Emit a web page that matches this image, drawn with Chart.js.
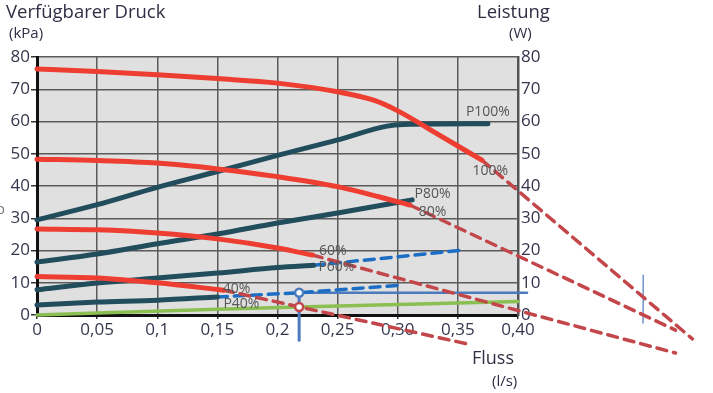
<!DOCTYPE html>
<html>
<head>
<meta charset="utf-8">
<script src="https://cdn.jsdelivr.net/npm/chart.js@4/dist/chart.umd.min.js"></script>
<style>
  html, body { margin: 0; padding: 0; background: #fff; }
</style>
</head>
<body>
<canvas id="pumpChart" width="713" height="393"></canvas>
<script>
// pressure curves (kPa, left axis) and power curves (W, right axis) over flow (l/s)
const flow100 = [0, 0.05, 0.1, 0.15, 0.2, 0.25, 0.28, 0.30, 0.33, 0.37];
const druck100 = [76.3, 75.5, 74.5, 73.3, 71.9, 69.2, 66.6, 63.3, 56.8, 48.0];
const flowP100 = [0, 0.05, 0.1, 0.15, 0.2, 0.25, 0.29, 0.305, 0.375];
const leistungP100 = [29.5, 34.2, 39.6, 44.5, 49.5, 54.3, 58.5, 59.1, 59.3];

const flow80 = [0, 0.05, 0.1, 0.15, 0.2, 0.25, 0.285, 0.31];
const druck80 = [48.3, 47.9, 47.1, 45.3, 42.9, 39.8, 36.6, 34.1];
const flowP80 = [0, 0.05, 0.1, 0.15, 0.2, 0.25, 0.312];
const leistungP80 = [16.4, 18.9, 22.1, 25.1, 28.5, 31.6, 35.7];

const flow60 = [0, 0.05, 0.1, 0.15, 0.2, 0.229];
const druck60 = [26.7, 26.4, 25.4, 23.6, 20.8, 18.6];
const flowP60 = [0, 0.05, 0.1, 0.15, 0.2, 0.23];
const leistungP60 = [7.8, 9.9, 11.5, 13.0, 14.7, 15.4];

const flow40 = [0, 0.05, 0.1, 0.155];
const druck40 = [11.9, 11.5, 10.0, 7.7];
const flowP40 = [0, 0.05, 0.1, 0.15];
const leistungP40 = [3.1, 4.0, 4.6, 5.6];

// extrapolated (dashed) parts
const ext100 = [[0.37, 48.0], [0.545, -7.4]];
const ext80 = [[0.31, 34.1], [0.531, -4.7]];
const ext60 = [[0.229, 18.6], [0.531, -11.8]];
const ext40 = [[0.155, 7.7], [0.362, -9.3]];
const extP60 = [[0.23, 15.4], [0.356, 20.2]];
const extP40 = [[0.15, 5.6], [0.218, 6.9], [0.30, 9.2]];

// system curve and operating point
const anlageFlow = [0, 0.15, 0.218, 0.40, 0.556];
const anlageDruck = [0, 1.8, 2.5, 4.2, 6.2];
const betriebsFlow = 0.218;
const betriebsDruck = 2.5;
const betriebsLeistung = 6.9;
const leistungEnde = 0.4075;
const lotUnten = -7.8;
const marker2 = [[0.5041, 12.4], [0.504, -2.5]];

const xTickLabels = ['0', '0,05', '0,1', '0,15', '0,2', '0,25', '0,30', '0,35', '0,40'];

const curveLabels = ['P100%', '100%', 'P80%', '80%', '60%', 'P60%', '40%', 'P40%'];
const labelFlow = [0.375, 0.377, 0.329, 0.329, 0.246, 0.249, 0.166, 0.170];
const labelValue = [62.9, 44.7, 37.5, 31.9, 19.8, 14.9, 8.1, 3.4];

const RED = '#ee3d31';
const DARK = '#224d5c';
const RED_DASH = '#c2464a';
const BLUE_DASH = '#1c6ec4';
const BLUE = '#4b7bbd';
const GREEN = '#8cbf52';
const FONT = '"Open Sans", "DejaVu Sans", sans-serif';

function pts(xs, ys) {
    return xs.map((x, i) => ({ x: x, y: ys[i] }));
}
function pairs(arr) {
    return arr.map(p => ({ x: p[0], y: p[1] }));
}
function solid(data, color, width, axis) {
    return { data: data, borderColor: color, borderWidth: width, pointRadius: 0,
             cubicInterpolationMode: 'monotone', yAxisID: axis || 'y', clip: false, fill: false };
}
function dashed(data, color, axis) {
    return { data: data, borderColor: color, borderWidth: 3.5, borderDash: [10, 7], pointRadius: 0,
             yAxisID: axis || 'y', clip: false, fill: false };
}

// first in the list is drawn on top
const datasets = [
    { data: [{ x: betriebsFlow, y: betriebsLeistung }], borderColor: BLUE, backgroundColor: '#fff',
      pointRadius: 4, pointBorderWidth: 2.5, showLine: false, yAxisID: 'y2', clip: false },
    { data: [{ x: betriebsFlow, y: betriebsDruck }], borderColor: RED_DASH, backgroundColor: '#fff',
      pointRadius: 4, pointBorderWidth: 2.5, showLine: false, clip: false },
    solid(pts(flow100, druck100), RED, 5),
    solid(pts(flow80, druck80), RED, 5),
    solid(pts(flow60, druck60), RED, 5),
    solid(pts(flow40, druck40), RED, 5),
    solid(pts(flowP100, leistungP100), DARK, 5, 'y2'),
    solid(pts(flowP80, leistungP80), DARK, 5, 'y2'),
    solid(pts(flowP60, leistungP60), DARK, 5, 'y2'),
    solid(pts(flowP40, leistungP40), DARK, 5, 'y2'),
    dashed(pairs(ext100), RED_DASH),
    dashed(pairs(ext80), RED_DASH),
    dashed(pairs(ext60), RED_DASH),
    dashed(pairs(ext40), RED_DASH),
    dashed(pairs(extP60), BLUE_DASH, 'y2'),
    dashed(pairs(extP40), BLUE_DASH, 'y2'),
    solid([{ x: betriebsFlow, y: betriebsLeistung }, { x: betriebsFlow, y: lotUnten }], BLUE, 3, 'y2'),
    solid([{ x: betriebsFlow, y: betriebsLeistung }, { x: leistungEnde, y: betriebsLeistung }], BLUE, 2.5, 'y2'),
    solid(pairs(marker2), BLUE, 1.2),
    solid(pts(anlageFlow, anlageDruck), GREEN, 3.5)
];

const plotBackground = {
    id: 'plotBackground',
    beforeDraw(chart) {
        const a = chart.chartArea;
        const c = chart.ctx;
        c.save();
        c.fillStyle = '#e0e0e0';
        c.fillRect(a.left, a.top, a.right - a.left, a.bottom - a.top);
        c.restore();
    }
};

const texts = {
    id: 'texts',
    afterDatasetsDraw(chart) {
        const c = chart.ctx;
        const xs = chart.scales.x;
        const ys = chart.scales.y;
        c.save();
        c.fillStyle = '#555';
        c.font = '14px ' + FONT;
        c.textAlign = 'center';
        c.textBaseline = 'middle';
        curveLabels.forEach((t, i) => {
            c.fillText(t, xs.getPixelForValue(labelFlow[i]), ys.getPixelForValue(labelValue[i]));
        });
        c.textAlign = 'left';
        c.textBaseline = 'alphabetic';
        c.fillStyle = '#2e2e44';
        c.font = '18.5px ' + FONT;
        c.fillText('Verfügbarer Druck', 6, 18);
        c.fillText('Leistung', 477, 18);
        c.font = '18px ' + FONT;
        c.fillText('Fluss', 472, 364);
        c.font = '15px ' + FONT;
        c.fillText('(kPa)', 9, 38);
        c.fillText('(W)', 509, 38);
        c.fillText('(l/s)', 492, 386);
        c.fillStyle = '#777';
        c.fillText('o', -4, 214);
        c.restore();
    }
};

const tickFont = { family: FONT, size: 17 };

new Chart(document.getElementById('pumpChart').getContext('2d'), {
    type: 'line',
    data: { datasets: datasets },
    options: {
        responsive: false,
        animation: false,
        layout: { padding: { top: 57, left: 0, right: 0, bottom: 0 } },
        plugins: { legend: { display: false }, tooltip: { enabled: false } },
        elements: { line: { borderCapStyle: 'round', borderJoinStyle: 'round' } },
        scales: {
            x: {
                type: 'linear', min: 0, max: 0.4,
                afterFit(s) { s.height = 78; },
                ticks: { stepSize: 0.05, color: '#33384d', font: tickFont, padding: 1,
                         maxRotation: 0, autoSkip: false,
                         callback: (v, i) => xTickLabels[i] },
                grid: { color: '#5a5a5a', lineWidth: 1.5, tickColor: '#333', tickLength: 4 },
                border: { color: '#111', width: 3 }
            },
            y: {
                position: 'left', min: 0, max: 80,
                afterFit(s) { s.width = 37; },
                ticks: { stepSize: 10, color: '#33384d', font: tickFont, padding: 1 },
                grid: { color: '#5a5a5a', lineWidth: 1.5, tickColor: '#333', tickLength: 6 },
                border: { color: '#111', width: 3 }
            },
            y2: {
                position: 'right', min: 0, max: 80,
                afterFit(s) { s.width = 195; },
                ticks: { stepSize: 10, color: '#36324d', font: tickFont, padding: 3 },
                grid: { drawOnChartArea: false, drawTicks: false },
                border: { color: '#555', width: 2.5 }
            }
        }
    },
    plugins: [plotBackground, texts]
});
</script>
</body>
</html>
